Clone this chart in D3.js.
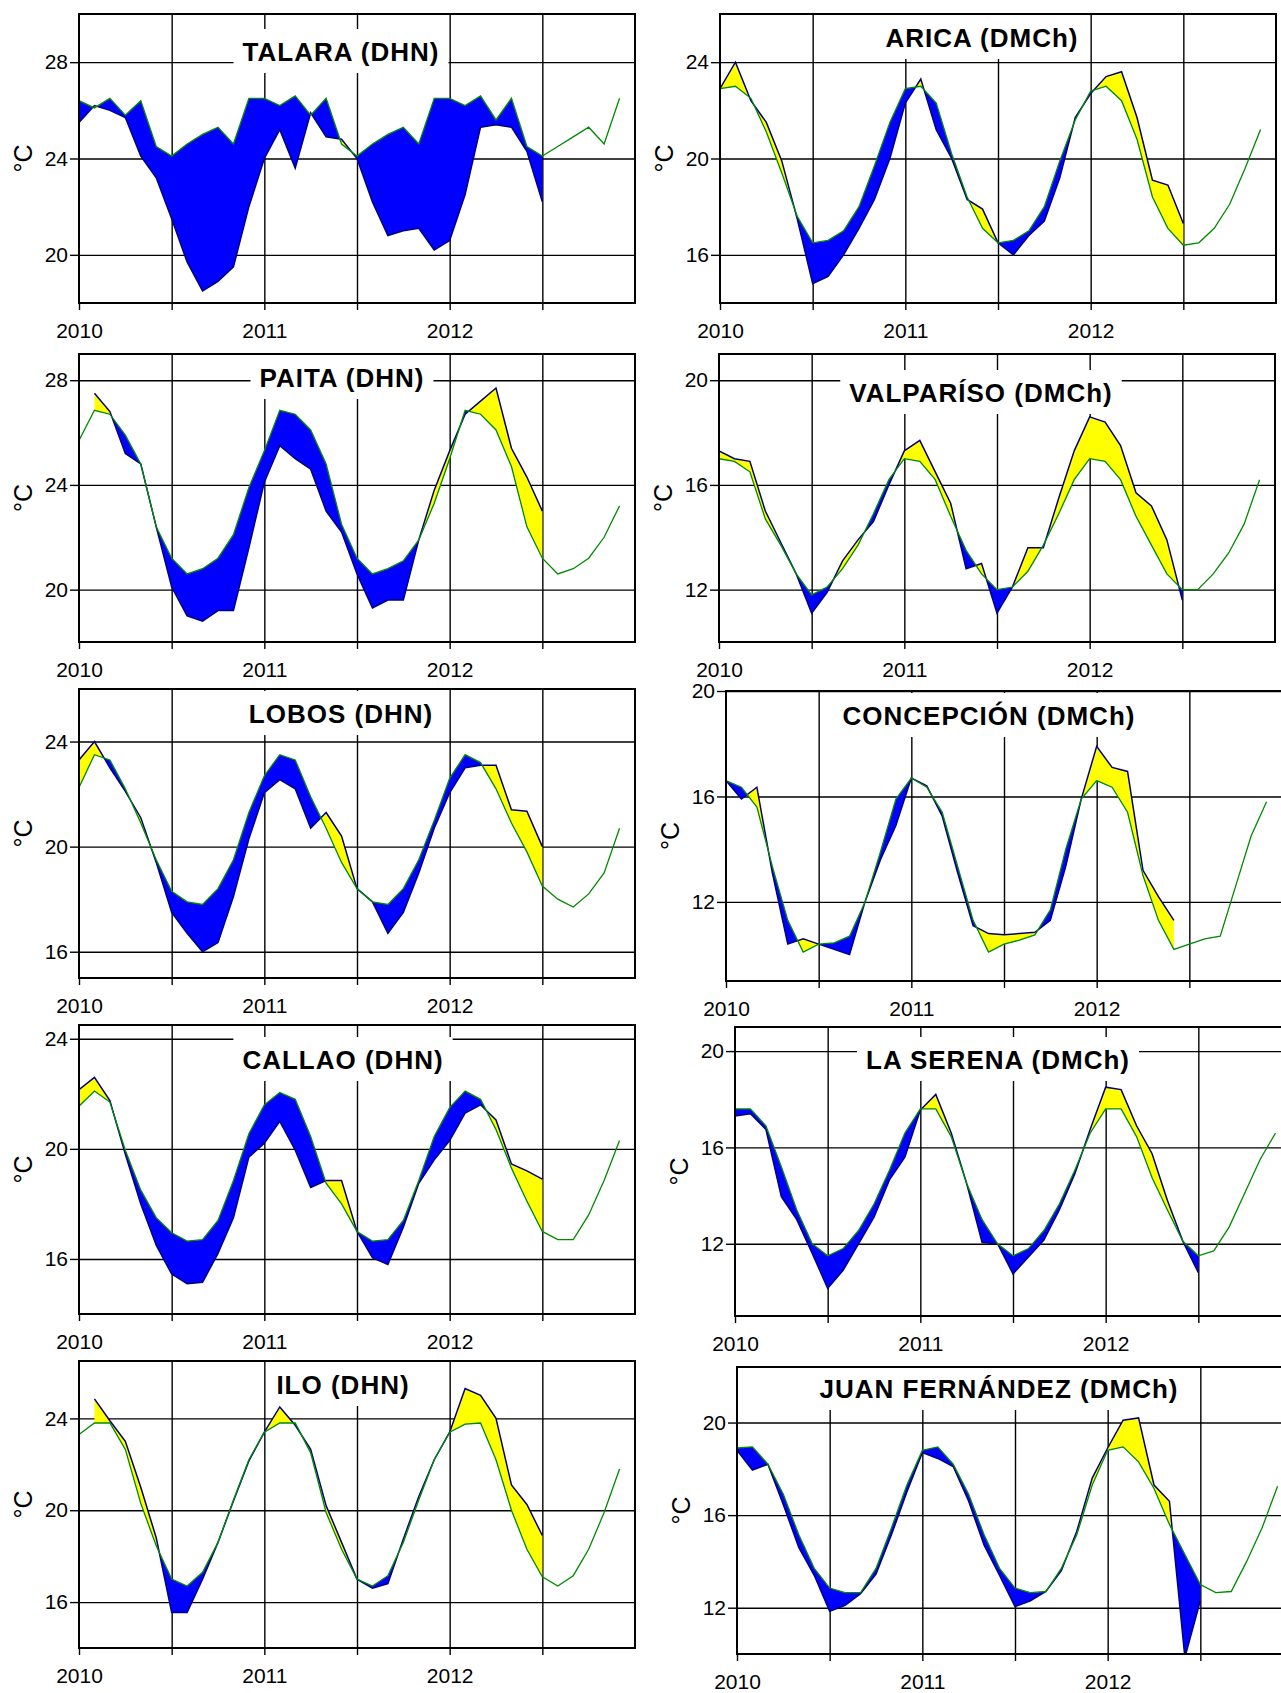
<!DOCTYPE html>
<html>
<head>
<meta charset="utf-8">
<script src="https://cdn.jsdelivr.net/npm/d3@7"></script>
<style>
  body { margin: 0; background: #fff; }
  svg text { font-family: "Liberation Sans", Arial, sans-serif; fill: #000; }
</style>
</head>
<body>
<div id="chart"></div>
<script>
// monthly values, first month = Jan 2010
const startYear = 2010

const stations = ["TALARA (DHN)", "ARICA (DMCh)", "PAITA (DHN)", "VALPARÍSO (DMCh)", "LOBOS (DHN)",
  "CONCEPCIÓN (DMCh)", "CALLAO (DHN)", "LA SERENA (DMCh)", "ILO (DHN)", "JUAN FERNÁNDEZ (DMCh)"]

// climatology (green) and observed (navy) SST, °C
const talaraClim = [26.4, 26.1, 26.5, 25.8, 26.4, 24.5, 24.1, 24.6, 25.0, 25.3, 24.6, 26.5,
  26.5, 26.2, 26.6, 25.8, 26.5, 24.6, 24.1, 24.6, 25.0, 25.3, 24.6, 26.5,
  26.5, 26.2, 26.6, 25.6, 26.5, 24.5, 24.1, 24.5, 24.9, 25.3, 24.6, 26.5]
const talaraObs = [25.5, 26.2, 26.0, 25.7, 24.1, 23.2, 21.5, 19.7, 18.5, 18.9, 19.5, 22.0,
  24.0, 25.2, 23.6, 25.9, 24.9, 24.8, 24.0, 22.2, 20.8, 21.0, 21.1, 20.2,
  20.6, 22.5, 25.3, 25.4, 25.3, 24.3, 22.2]

const aricaClim = [22.9, 23.0, 22.5, 21.1, 19.4, 17.6, 16.5, 16.6, 17.0, 18.0, 19.7, 21.5,
  22.9, 23.0, 22.3, 20.2, 18.4, 17.1, 16.5, 16.6, 17.0, 18.0, 19.9, 21.6,
  22.8, 23.0, 22.4, 20.8, 18.4, 17.1, 16.4, 16.5, 17.1, 18.1, 19.6, 21.2]
const aricaObs = [22.9, 24.0, 22.4, 21.5, 19.9, 17.5, 14.8, 15.1, 16.0, 17.1, 18.3, 20.0,
  22.3, 23.3, 21.2, 20.0, 18.3, 17.9, 16.5, 16.0, 16.8, 17.4, 19.2, 21.7,
  22.7, 23.4, 23.6, 21.7, 19.1, 18.9, 17.3]

const paitaClim = [25.7, 26.85, 26.7, 25.9, 24.8, 22.4, 21.2, 20.6, 20.8, 21.2, 22.1, 23.9,
  25.3, 26.85, 26.7, 26.1, 24.8, 22.5, 21.2, 20.6, 20.8, 21.1, 21.9, 23.3,
  25.0, 26.85, 26.7, 26.1, 24.7, 22.4, 21.2, 20.6, 20.8, 21.2, 22.0, 23.2]
const paitaObs = [null, 27.5, 26.8, 25.2, 24.8, 22.4, 20.1, 19.0, 18.8, 19.2, 19.2, 21.6,
  24.1, 25.5, 25.0, 24.6, 23.0, 22.2, 20.6, 19.3, 19.6, 19.6, 21.9, 23.8,
  25.3, 26.7, 27.2, 27.7, 25.4, 24.3, 23.0]

const valparaisoClim = [17.0, 16.9, 16.5, 14.7, 13.7, 12.6, 11.8, 12.1, 12.8, 13.7, 14.9, 16.2,
  17.0, 16.9, 16.2, 14.8, 13.5, 12.6, 12.0, 12.1, 12.7, 13.7, 14.9, 16.2,
  17.0, 16.9, 16.2, 14.8, 13.7, 12.6, 12.0, 12.0, 12.6, 13.4, 14.5, 16.2]
const valparaisoObs = [17.3, 17.0, 16.9, 15.0, 13.8, 12.6, 11.1, 11.9, 13.1, 13.9, 14.6, 16.0,
  17.3, 17.7, 16.5, 15.3, 12.8, 13.0, 11.1, 12.1, 13.6, 13.6, 15.5, 17.3,
  18.6, 18.4, 17.5, 15.7, 15.2, 13.9, 11.6]

const lobosClim = [22.25, 23.5, 23.3, 22.2, 20.9, 19.5, 18.3, 17.9, 17.8, 18.4, 19.5, 21.3,
  22.7, 23.5, 23.3, 21.9, 20.7, 19.4, 18.4, 17.9, 17.8, 18.4, 19.5, 21.0,
  22.6, 23.5, 23.2, 22.2, 20.9, 19.8, 18.5, 18.0, 17.7, 18.2, 19.0, 20.7]
const lobosObs = [23.3, 24.0, 23.0, 22.1, 21.1, 19.4, 17.5, 16.7, 16.0, 16.35, 18.1, 20.3,
  22.05, 22.55, 22.2, 20.7, 21.3, 20.4, 18.4, 17.9, 16.7, 17.5, 19.0, 20.7,
  22.05, 23.0, 23.1, 23.1, 21.4, 21.35, 20.0]

const concepcionClim = [16.6, 16.35, 15.6, 13.35, 11.3, 10.1, 10.4, 10.45, 10.7, 12.0, 13.9, 15.9,
  16.7, 16.35, 15.4, 13.35, 11.3, 10.1, 10.4, 10.55, 10.75, 11.7, 14.0, 15.9,
  16.6, 16.35, 15.4, 13.0, 11.3, 10.2, 10.4, 10.6, 10.7, 12.6, 14.5, 15.8]
const concepcionObs = [16.6, 15.9, 16.35, 13.1, 10.4, 10.6, 10.4, 10.2, 10.0, 12.0, 13.6, 14.9,
  16.7, 16.4, 15.25, 13.1, 11.1, 10.8, 10.75, 10.8, 10.85, 11.3, 13.35, 15.9,
  17.9, 17.1, 16.95, 13.2, 12.2, 11.3]

const callaoClim = [21.55, 22.1, 21.7, 19.95, 18.5, 17.5, 16.95, 16.65, 16.7, 17.4, 18.85, 20.55,
  21.6, 22.05, 21.8, 20.45, 18.75, 18.0, 17.0, 16.65, 16.7, 17.4, 18.85, 20.45,
  21.5, 22.1, 21.8, 20.7, 19.3, 18.1, 17.0, 16.7, 16.7, 17.6, 18.85, 20.3]
const callaoObs = [22.15, 22.6, 21.75, 19.8, 18.0, 16.5, 15.45, 15.1, 15.15, 16.2, 17.5, 19.7,
  20.2, 21.0, 19.95, 18.6, 18.85, 18.85, 17.0, 16.05, 15.8, 17.15, 18.75, 19.6,
  20.3, 21.3, 21.6, 21.05, 19.45, 19.2, 18.9]

const laSerenaClim = [17.6, 17.6, 16.9, 15.2, 13.4, 12.0, 11.5, 11.8, 12.55, 13.65, 15.05, 16.6,
  17.6, 17.6, 16.45, 14.5, 13.0, 12.0, 11.5, 11.8, 12.55, 13.65, 15.05, 16.6,
  17.6, 17.6, 16.45, 14.75, 13.4, 12.1, 11.5, 11.7, 12.7, 14.1, 15.5, 16.6]
const laSerenaObs = [17.3, 17.4, 16.75, 13.95, 13.0, 11.6, 10.15, 10.9, 12.0, 13.1, 14.65, 15.6,
  17.55, 18.2, 16.6, 14.5, 12.05, 12.0, 10.75, 11.45, 12.15, 13.4, 14.9, 16.75,
  18.5, 18.4, 16.9, 15.75, 13.8, 12.1, 10.8]

const iloClim = [23.3, 23.8, 23.8, 22.65, 20.3, 18.45, 17.0, 16.7, 17.3, 18.6, 20.45, 22.2,
  23.4, 23.8, 23.8, 22.5, 19.9, 18.3, 17.0, 16.7, 17.15, 18.6, 20.45, 22.2,
  23.4, 23.75, 23.8, 22.2, 20.0, 18.3, 17.1, 16.7, 17.15, 18.3, 19.9, 21.8]
const iloObs = [null, 24.85, 23.9, 23.0, 21.0, 18.8, 15.55, 15.55, 17.0, 18.6, 20.4, 22.15,
  23.4, 24.5, 23.7, 22.65, 20.2, 18.6, 17.0, 16.6, 16.8, 18.75, 20.6, 22.2,
  23.4, 25.3, 25.0, 24.0, 21.1, 20.25, 18.9]

const juanFernandezClim = [18.9, 18.95, 18.2, 16.9, 15.15, 13.7, 12.85, 12.65, 12.65, 13.7, 15.45, 17.3,
  18.8, 18.95, 18.2, 16.9, 15.15, 13.7, 12.85, 12.65, 12.7, 13.7, 15.15, 17.3,
  18.8, 18.95, 18.3, 17.15, 15.6, 14.3, 13.0, 12.65, 12.7, 14.0, 15.45, 17.25]
const juanFernandezObs = [18.8, 17.95, 18.2, 16.45, 14.6, 13.4, 11.85, 12.1, 12.6, 13.45, 15.15, 17.0,
  18.7, 18.45, 18.1, 16.6, 14.7, 13.4, 12.05, 12.3, 12.7, 13.6, 15.3, 17.6,
  18.9, 20.1, 20.2, 17.3, 16.6, 9.85, 12.3]

const climSeries = [talaraClim, aricaClim, paitaClim, valparaisoClim, lobosClim,
  concepcionClim, callaoClim, laSerenaClim, iloClim, juanFernandezClim]
const obsSeries = [talaraObs, aricaObs, paitaObs, valparaisoObs, lobosObs,
  concepcionObs, callaoObs, laSerenaObs, iloObs, juanFernandezObs]

// y axis range and labelled ticks of each panel
const yDomains = [[18, 30], [14, 26], [18, 29], [10, 21], [15, 26], [9, 20], [14, 24.5], [9, 21], [14, 26.5], [10, 22.4]]
const yTicks = [[20, 24, 28], [16, 20, 24], [20, 24, 28], [12, 16, 20], [16, 20, 24],
  [12, 16, 20], [16, 20, 24], [12, 16, 20], [16, 20, 24], [12, 16, 20]]
const xTicks = [2010, 2010.5, 2011, 2011.5, 2012, 2012.5]

// where each panel sits on the page (x, y = top left of the plot box, tx/ty = title centre/baseline)
const layout = [
  {x: 79, y: 14, h: 289, tx: 341, ty: 61},
  {x: 720, y: 14, h: 289, tx: 982, ty: 47},
  {x: 79, y: 354, h: 288, tx: 342, ty: 387},
  {x: 719, y: 354, h: 288, tx: 981, ty: 402},
  {x: 79, y: 689, h: 289, tx: 341, ty: 723},
  {x: 726, y: 691, h: 290, tx: 989, ty: 725},
  {x: 79, y: 1025, h: 289, tx: 343, ty: 1069},
  {x: 735, y: 1027, h: 289, tx: 998, ty: 1069},
  {x: 79, y: 1361, h: 287, tx: 343, ty: 1394},
  {x: 737, y: 1367, h: 287, tx: 999, ty: 1398}
]

let width = 1281,
    height = 1693,
    plotW = 556

let svg = d3.select("#chart")
  .append("svg")
  .attr("width", width)
  .attr("height", height)

stations.forEach((name, k) => {
  let p = layout[k]
  let clim = climSeries[k]
  let obs = obsSeries[k]

  let x = d3.scaleLinear().domain([startYear, startYear + 3]).range([0, plotW])
  let y = d3.scaleLinear().domain(yDomains[k]).range([p.h, 0])

  let pts = clim.map((c, i) => ({t: startYear + i / 12, c: c, o: i < obs.length ? obs[i] : null}))
  let withObs = pts.filter((d, i) => i < obs.length)

  let g = svg.append("g").attr("transform", "translate(" + p.x + "," + p.y + ")")
  let defs = g.append("defs")

  defs.append("clipPath").attr("id", "box" + k)
    .append("rect").attr("width", plotW).attr("height", p.h)

  // regions above / below the climatology, used to colour the anomaly
  defs.append("clipPath").attr("id", "warm" + k)
    .append("path")
    .attr("d", d3.area().x(d => x(d.t)).y0(-5).y1(d => y(d.c))(pts))
  defs.append("clipPath").attr("id", "cold" + k)
    .append("path")
    .attr("d", d3.area().x(d => x(d.t)).y0(p.h + 5).y1(d => y(d.c))(pts))

  // gridlines
  g.append("g")
    .attr("class", "grid")
    .call(d3.axisLeft(y).tickValues(yTicks[k]).tickSize(-plotW).tickFormat(""))
  g.append("g")
    .attr("class", "grid")
    .call(d3.axisBottom(x).tickValues(xTicks.slice(1)).tickSize(p.h).tickFormat(""))

  // axes with labels
  let yAxis = g.append("g")
    .attr("class", "axis")
    .call(d3.axisLeft(y).tickValues(yTicks[k]).tickSize(9).tickPadding(2))
  let xAxis = g.append("g")
    .attr("class", "axis")
    .attr("transform", "translate(0," + p.h + ")")
    .call(d3.axisBottom(x).tickValues(xTicks).tickSize(7).tickPadding(13)
      .tickFormat(d => Number.isInteger(d) ? d : ""))

  g.selectAll(".grid path, .axis path").remove()
  g.selectAll(".grid line, .axis line").attr("stroke", "#000").attr("stroke-width", 1.4)
  yAxis.selectAll("text").style("font-size", "21px").attr("font-family", null)
  xAxis.selectAll("text").style("font-size", "21px").attr("font-family", null)

  // title with white backing
  g.append("rect")
    .attr("x", p.tx - p.x - 115)
    .attr("y", p.ty - p.y - 32)
    .attr("width", 230)
    .attr("height", 44)
    .attr("fill", "#fff")
    .attr("class", "titlebox")
  let title = g.append("text")
    .attr("x", p.tx - p.x)
    .attr("y", p.ty - p.y)
    .attr("text-anchor", "middle")
    .style("font-size", "26px")
    .style("font-weight", "bold")
    .style("letter-spacing", "1px")
    .text(name)
  let bb = title.node().getBBox()
  g.select(".titlebox")
    .attr("x", bb.x - 9)
    .attr("width", bb.width + 18)

  // data
  let plot = g.append("g").attr("clip-path", "url(#box" + k + ")")

  let band = d3.area()
    .defined(d => d.o != null)
    .x(d => x(d.t))
    .y0(d => y(d.c))
    .y1(d => y(d.o))

  plot.append("path")
    .attr("d", band(withObs))
    .attr("fill", "#ffff00")
    .attr("clip-path", "url(#warm" + k + ")")
  plot.append("path")
    .attr("d", band(withObs))
    .attr("fill", "#0000ff")
    .attr("clip-path", "url(#cold" + k + ")")

  plot.append("path")
    .attr("d", d3.line().defined(d => d.o != null).x(d => x(d.t)).y(d => y(d.o))(withObs))
    .attr("fill", "none")
    .attr("stroke", "#000080")
    .attr("stroke-width", 1.5)

  plot.append("path")
    .attr("d", d3.line().x(d => x(d.t)).y(d => y(d.c))(pts))
    .attr("fill", "none")
    .attr("stroke", "#008a00")
    .attr("stroke-width", 1.3)

  // frame
  g.append("rect")
    .attr("width", plotW)
    .attr("height", p.h)
    .attr("fill", "none")
    .attr("stroke", "#000")
    .attr("stroke-width", 2)

  // unit label
  g.append("text")
    .attr("transform", "translate(-56," + (p.h / 2) + ") rotate(-90)")
    .attr("text-anchor", "middle")
    .attr("dy", "0.35em")
    .style("font-size", "25px")
    .text("°C")
})
</script>
</body>
</html>
